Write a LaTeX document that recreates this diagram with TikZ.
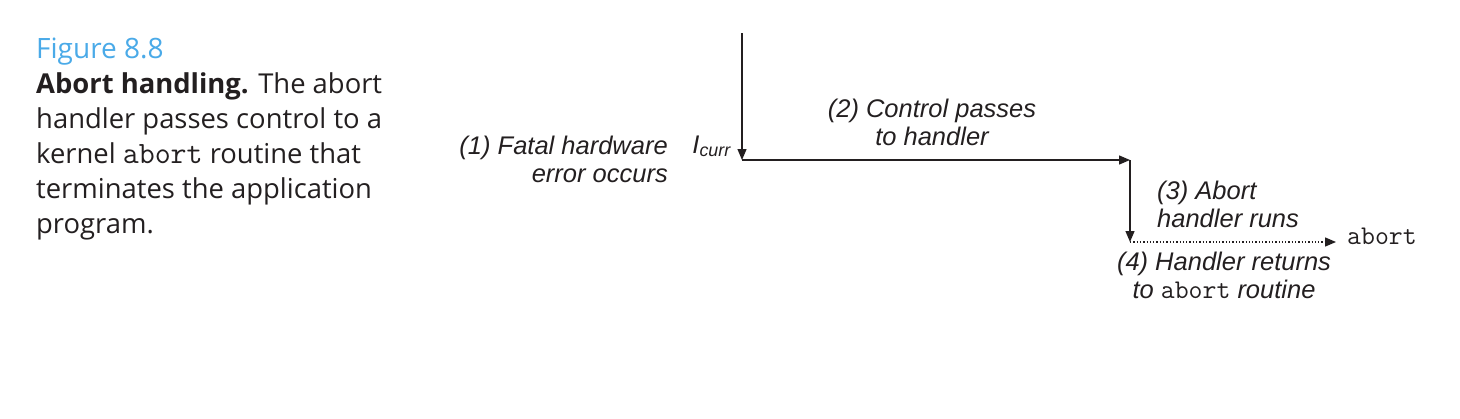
\documentclass[tikz,border=0pt]{standalone}
\usepackage{fontspec}
\setmainfont{Liberation Sans}
\newfontfamily\capfont{Open Sans}
\newfontfamily\diafont{Liberation Sans}
\usetikzlibrary{arrows.meta}
\definecolor{figblue}{HTML}{4AAAE8}
\definecolor{ink}{HTML}{231F20}
\newcommand{\captt}[1]{{\ttfamily\fontsize{31}{35}\selectfont #1}}
\newcommand{\diatt}[1]{{\upshape\ttfamily\fontsize{27}{28}\selectfont #1}}
\tikzset{
  flow/.style={line width=1.3pt, draw=ink, -{Triangle[length=11pt,width=9pt]}},
  dflow/.style={flow, dotted},
  lab/.style={font=\diafont\fontsize{25.5}{28}\selectfont\itshape, text=ink, inner sep=0pt},
  captxt/.style={font=\capfont\fontsize{27.4}{35}\selectfont, text=ink, inner sep=0pt, align=left},
}
\begin{document}
\begin{tikzpicture}[x=1pt,y=-1pt]
\useasboundingbox (0,0) rectangle (1460,418);
% caption
\node[captxt, text=figblue, anchor=base west, font=\capfont\fontsize{28}{35}\selectfont] (fig) at (36,58) {Figure 8.8};
\node[captxt, anchor=base west] (captext) at (36,233)
  {\textbf{Abort handling.} The abort\\ handler passes control to a\\ kernel \captt{abort} routine that\\ terminates the application\\ program.};
% coordinates
\coordinate (top) at (742,33);
\coordinate (a) at (742,160);
\coordinate (b) at (1130,160);
\coordinate (c) at (1130,242);
\coordinate (d) at (1336,242);
\draw[flow] (top) -- (a);
\draw[flow] (a) -- (b);
\draw[flow] (b) -- (c);
\draw[dflow] (c) -- (d);
% labels
\node[lab, anchor=base east] (icurr) at (731,153) {I\textsubscript{curr}};
\node[lab, anchor=base east, align=right] (l1) at (668,182) {(1) Fatal hardware\\error occurs};
\node[lab, anchor=base, align=center] (l2) at (932,145) {(2) Control passes\\to handler};
\node[lab, anchor=base west, align=left] (l3) at (1157,227) {(3) Abort\\handler runs};
\node[lab, anchor=base west] (ab) at (1347,244) {\diatt{abort}};
\node[lab, anchor=base, align=center] (l4) at (1224,298) {(4) Handler returns\\to \diatt{abort} routine};
\end{tikzpicture}
\end{document}
